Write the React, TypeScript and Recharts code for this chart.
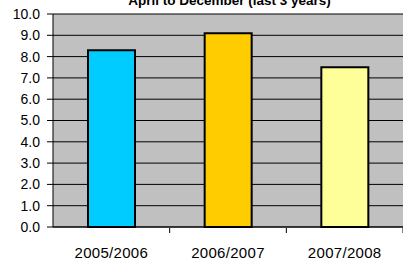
import React from "react";
import { BarChart, Bar, XAxis, YAxis, CartesianGrid, Cell } from "recharts";

const years = ["2005/2006", "2006/2007", "2007/2008"];
const values = [8.3, 9.1, 7.5];
const COLORS = ["#00ccff", "#ffcc00", "#ffff99"];
const yTicks = [0, 1, 2, 3, 4, 5, 6, 7, 8, 9, 10];
const title = "April to December (last 3 years)";

const data = years.map((name, i) => ({ name, value: values[i] }));

const W = 403;
const H = 264;
const Y_AXIS_W = 53;
const X_AXIS_H = 37;
const HALF_BAND = (W - Y_AXIS_W) / years.length / 2;
const FONT = "Liberation Sans, Arial, sans-serif";

const XTick = (props: any) => {
  const { x, y, payload } = props;
  return (
    <g>
      <line x1={x + HALF_BAND} y1={y - 7} x2={x + HALF_BAND} y2={y - 2} stroke="#000" />
      <text x={x} y={y + 23} textAnchor="middle" fontSize={15} letterSpacing={0.3} fill="#000" fontFamily={FONT}>
        {payload.value}
      </text>
    </g>
  );
};

const App: React.FC = () => {
  return (
    <div style={{ position: "absolute", left: 0, top: 0, width: W, height: H, background: "#fff" }}>
      <BarChart width={W} height={H} data={data} margin={{ top: 14, right: 0, bottom: 0, left: 0 }} barCategoryGap="30%">
        <CartesianGrid vertical={false} stroke="#000" fill="#c0c0c0" />
        <XAxis
          dataKey="name"
          height={X_AXIS_H}
          axisLine={{ stroke: "#000" }}
          tickLine={false}
          tick={<XTick />}
          interval={0}
        />
        <YAxis
          width={Y_AXIS_W}
          domain={[0, 10]}
          ticks={yTicks}
          interval={0}
          tickFormatter={(v: number) => v.toFixed(1)}
          axisLine={{ stroke: "#000" }}
          tickLine={{ stroke: "#000" }}
          tickSize={6}
          tickMargin={7}
          tick={{ fill: "#000", fontSize: 14, fontFamily: FONT }}
        />
        <Bar dataKey="value" stroke="#000" strokeWidth={2} isAnimationActive={false}>
          {data.map((entry, index) => (
            <Cell key={`cell-${index}`} fill={COLORS[index % COLORS.length]} />
          ))}
        </Bar>
      </BarChart>
      <svg width={W} height={20} style={{ position: "absolute", left: 0, top: 0, overflow: "visible" }}>
        <text x={229.5} y={4.5} textAnchor="middle" fontSize={13.5} fontWeight="bold" fontFamily={FONT} fill="#000">
          {title}
        </text>
      </svg>
    </div>
  );
};

export default App;
